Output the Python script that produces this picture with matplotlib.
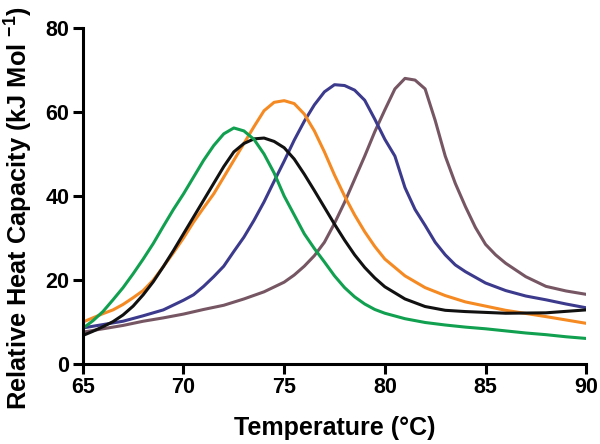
import matplotlib
matplotlib.use("Agg")
import matplotlib.pyplot as plt

plt.rcParams['font.family'] = ['Liberation Sans', 'DejaVu Sans']
plt.rcParams['mathtext.fontset'] = 'custom'
plt.rcParams['mathtext.bf'] = 'Liberation Sans:bold'
plt.rcParams['mathtext.rm'] = 'Liberation Sans'

green_t = [65, 65.5, 66, 66.5, 67, 67.5, 68, 68.5, 69, 69.5, 70, 70.5, 71, 71.5, 72, 72.5, 73, 73.5, 74, 74.5, 75, 75.5, 76, 76.5, 77, 77.5, 78, 78.5, 79, 79.5, 80, 81, 82, 83, 84, 85, 86, 87, 88, 89, 90]
green_v = [8.5, 10.3, 12.5, 15.3, 18.2, 21.5, 25, 28.7, 32.8, 36.8, 40.5, 44.5, 48.5, 52, 54.8, 56.2, 55.5, 53.5, 50, 45.5, 40, 35.5, 31, 27.5, 24.3, 21, 18.2, 16, 14.3, 13, 12.1, 10.8, 9.9, 9.3, 8.8, 8.4, 7.9, 7.4, 7.0, 6.5, 6.1]

black_t = [65, 65.5, 66, 66.5, 67, 67.5, 68, 68.5, 69, 69.5, 70, 70.5, 71, 71.5, 72, 72.5, 73, 73.5, 74, 74.5, 75, 75.5, 76, 76.5, 77, 77.5, 78, 78.5, 79, 79.5, 80, 81, 82, 83, 84, 86, 88, 90]
black_v = [6.8, 7.8, 8.9, 10.1, 11.7, 13.8, 16.5, 19.6, 23.2, 27, 31, 35, 39, 43, 47, 50.5, 52.5, 53.6, 53.8, 53, 51.5, 48.8, 45.2, 41.3, 37.3, 33.3, 29.5, 26, 23, 20.5, 18.4, 15.5, 13.7, 12.8, 12.5, 12.1, 12.2, 12.9]

orange_t = [65, 65.5, 66, 66.5, 67, 67.5, 68, 68.5, 69, 69.5, 70, 70.5, 71, 71.5, 72, 72.5, 73, 73.5, 74, 74.5, 75, 75.5, 76, 76.5, 77, 77.5, 78, 78.5, 79, 79.5, 80, 81, 82, 83, 84, 86, 88, 90]
orange_v = [10, 11, 12, 12.9, 14.2, 15.8, 17.5, 20, 23.2, 26.5, 30, 33.8, 37.2, 40.5, 44.5, 48.5, 52.5, 56.5, 60.3, 62.3, 62.7, 62, 59.5, 55.5, 50.5, 45, 40, 35.5, 31.5, 28, 25, 21, 18.2, 16.3, 14.8, 12.8, 11.3, 9.7]

blue_t = [65, 66, 67, 68, 69, 70, 70.5, 71, 71.5, 72, 72.5, 73, 73.5, 74, 74.5, 75, 75.5, 76, 76.5, 77, 77.5, 78, 78.5, 79, 79.5, 80, 80.5, 81, 81.5, 82, 82.5, 83, 83.5, 84, 85, 86, 87, 88, 89, 90]
blue_v = [8.6, 9.4, 10.2, 11.5, 12.9, 15.2, 16.5, 18.5, 20.8, 23.3, 26.8, 30.2, 34.2, 38.6, 43.5, 48.3, 53.3, 57.8, 61.7, 64.8, 66.5, 66.3, 65.2, 62.8, 58.3, 53.5, 49.5, 42, 36.8, 33, 29, 26, 23.6, 22, 19.3, 17.5, 16.2, 15.3, 14.3, 13.4]

mauve_t = [65, 66, 67, 68, 69, 70, 71, 72, 73, 74, 75, 75.5, 76, 76.5, 77, 77.5, 78, 78.5, 79, 79.5, 80, 80.5, 81, 81.5, 82, 82.5, 83, 83.5, 84, 84.5, 85, 85.5, 86, 87, 88, 89, 90]
mauve_v = [7.6, 8.4, 9.2, 10.2, 11, 11.9, 13, 14, 15.5, 17.2, 19.5, 21.2, 23.3, 25.8, 29, 33.5, 38.5, 44, 49.5, 55.3, 60.5, 65.5, 68, 67.6, 65.5, 58, 49.5, 43, 37.5, 32.5, 28.5, 26, 24, 20.8, 18.5, 17.4, 16.6]

x_ticks = [65, 70, 75, 80, 85, 90]
y_ticks = [0, 20, 40, 60, 80]

fig = plt.figure(figsize=(6.0, 4.44), dpi=100)
ax = fig.add_axes([0.138, 0.180, 0.839, 0.757])

lw = 2.2
ax.plot(mauve_t, mauve_v, color='#765663', lw=lw, solid_joinstyle='round')
ax.plot(blue_t, blue_v, color='#3c3a8c', lw=lw, solid_joinstyle='round')
ax.plot(orange_t, orange_v, color='#f58a23', lw=lw, solid_joinstyle='round')
ax.plot(black_t, black_v, color='#111111', lw=lw, solid_joinstyle='round')
ax.plot(green_t, green_v, color='#10a04f', lw=lw, solid_joinstyle='round')

ax.set_xlim(65, 90)
ax.set_ylim(0, 80)
ax.set_xticks(x_ticks)
ax.set_yticks(y_ticks)
for s in ['top', 'right']:
    ax.spines[s].set_visible(False)
for s in ['left', 'bottom']:
    ax.spines[s].set_linewidth(2.2)
ax.tick_params(axis='both', direction='out', length=7.5, width=2.2, labelsize=15.5, pad=2)
for lab in ax.get_xticklabels() + ax.get_yticklabels():
    lab.set_fontweight('bold')

ax.set_xlabel('Temperature (°C)', fontsize=18, fontweight='bold', labelpad=13)
ax.set_ylabel('Relative Heat Capacity (kJ Mol $^{\\mathbf{-1}}$)', fontsize=18.3, fontweight='bold')
ax.yaxis.set_label_coords(-0.0954, 0.464)

fig.savefig('out.png', dpi=100)
